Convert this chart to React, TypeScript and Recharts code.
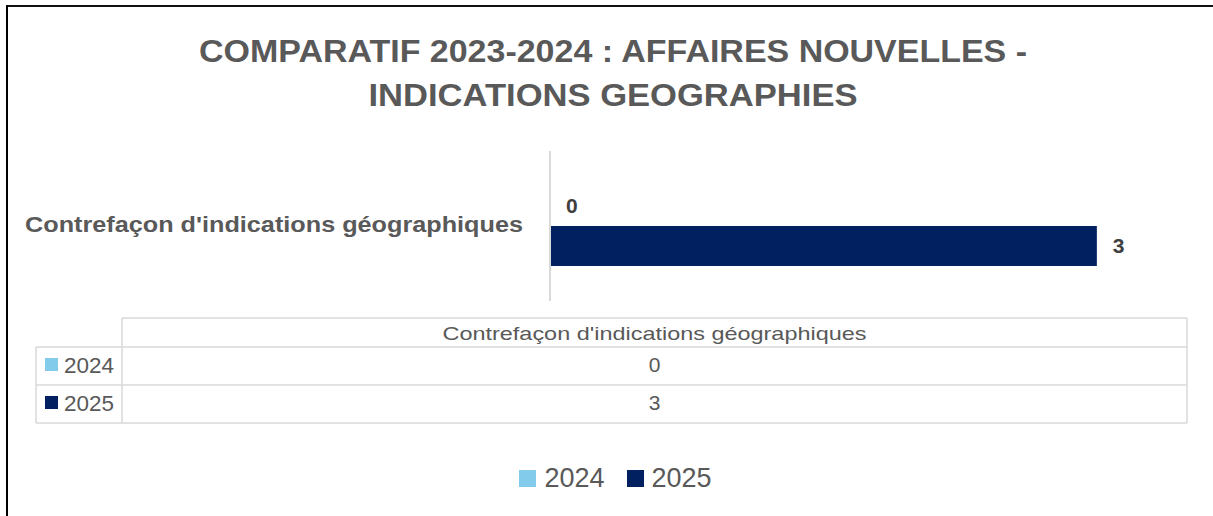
import React from 'react';
import { BarChart, Bar, XAxis, YAxis, LabelList, Legend } from 'recharts';

const categories = ["Contrefaçon d'indications géographiques"];
const seriesNames = ['2024', '2025'];
const values2024 = [0];
const values2025 = [3];
const seriesColors = ['#83CBEB', '#002060'];
const titleLines = ['COMPARATIF 2023-2024 : AFFAIRES NOUVELLES -', 'INDICATIONS GEOGRAPHIES'];
const xDomain = [0, 3.5];

const seriesValues = [values2024, values2025];
const data = categories.map((c, i) => ({ name: c, y2024: values2024[i], y2025: values2025[i] }));

const FONT = "'Liberation Sans', Arial, sans-serif";
const GREY = '#595959';
const LINE = '#d9d9d9';

const CategoryTick = (props: any) => {
  const { y, payload } = props;
  return (
    <text x={523} y={y + 6} textAnchor="end" fill={GREY} fontFamily={FONT} fontSize={22} fontWeight="bold" textLength={498} lengthAdjust="spacingAndGlyphs">
      {payload.value}
    </text>
  );
};

const LegendContent = () => (
  <div style={{ display: 'flex', justifyContent: 'center', alignItems: 'center', gap: 22, paddingLeft: 18, height: 34 }}>
    {seriesNames.map((n, i) => (
      <div key={n} style={{ display: 'flex', alignItems: 'center' }}>
        <span style={{ display: 'inline-block', width: 17, height: 17, background: seriesColors[i], marginRight: 8 }} />
        <span style={{ fontSize: 27, color: GREY, fontFamily: FONT, lineHeight: '34px' }}>{n}</span>
      </div>
    ))}
  </div>
);

export default function App() {
  const tableTop = 318;
  const rowTops = [347, 385];
  const rowH = 38;
  const left = 36;
  const mid = 122;
  const right = 1187;
  const bottom = rowTops[rowTops.length - 1] + rowH;
  const colCenter = (mid + right) / 2;
  return (
    <div style={{ position: 'absolute', left: 0, top: 0, width: 1213, height: 516, background: '#fff' }}>
      <BarChart
        width={1213}
        height={516}
        data={data}
        layout="vertical"
        margin={{ top: 151, right: 25, bottom: 215, left: 0 }}
        barGap={0}
      >
        <XAxis type="number" domain={xDomain} hide />
        <Bar dataKey="y2024" name={seriesNames[0]} fill={seriesColors[0]} barSize={40} minPointSize={1} isAnimationActive={false}>
          <LabelList dataKey="y2024" position="right" offset={15} fill="#404040" fontSize={21} fontWeight="bold" fontFamily={FONT} />
        </Bar>
        <Bar dataKey="y2025" name={seriesNames[1]} fill={seriesColors[1]} barSize={40} isAnimationActive={false}>
          <LabelList dataKey="y2025" position="right" offset={16} fill="#404040" fontSize={21} fontWeight="bold" fontFamily={FONT} />
        </Bar>
        <YAxis
          type="category"
          dataKey="name"
          width={550}
          axisLine={{ stroke: LINE, strokeWidth: 2 }}
          tickLine={false}
          tick={<CategoryTick />}
        />
        <Legend
          layout="horizontal"
          verticalAlign="middle"
          align="center"
          wrapperStyle={{ position: 'absolute', top: 461, left: 0, width: 1213, height: 34 }}
          content={<LegendContent />}
        />
      </BarChart>
      <svg width={1213} height={516} style={{ position: 'absolute', left: 0, top: 0, pointerEvents: 'none' }}>
        <rect x={6} y={5} width={1207} height={2} fill="#111" />
        <rect x={6} y={5} width={2} height={511} fill="#000" />
        {titleLines.map((t, i) => (
          <text
            key={i}
            x={613}
            y={62 + i * 44}
            textAnchor="middle"
            fill={GREY}
            fontFamily={FONT}
            fontSize={32}
            fontWeight="bold"
            textLength={i === 0 ? 828 : 489}
            lengthAdjust="spacingAndGlyphs"
          >
            {t}
          </text>
        ))}
        <g stroke={LINE} strokeWidth={1.5}>
          <line x1={mid} y1={tableTop} x2={right} y2={tableTop} />
          {[...rowTops, bottom].map((y) => (
            <line key={y} x1={left} y1={y} x2={right} y2={y} />
          ))}
          <line x1={left} y1={rowTops[0]} x2={left} y2={bottom} />
          <line x1={mid} y1={tableTop} x2={mid} y2={bottom} />
          <line x1={right} y1={tableTop} x2={right} y2={bottom} />
        </g>
        {categories.map((c) => (
          <text key={c} x={colCenter} y={340} textAnchor="middle" fill={GREY} fontFamily={FONT} fontSize={19} textLength={424} lengthAdjust="spacingAndGlyphs">
            {c}
          </text>
        ))}
        {seriesNames.map((n, i) => (
          <g key={n}>
            <rect x={45} y={rowTops[i] + 11} width={13} height={13} fill={seriesColors[i]} />
            <text x={64} y={rowTops[i] + 26} fill={GREY} fontFamily={FONT} fontSize={22} textLength={50} lengthAdjust="spacingAndGlyphs">
              {n}
            </text>
            <text x={colCenter} y={rowTops[i] + 25} textAnchor="middle" fill={GREY} fontFamily={FONT} fontSize={21}>
              {seriesValues[i][0]}
            </text>
          </g>
        ))}
      </svg>
    </div>
  );
}
